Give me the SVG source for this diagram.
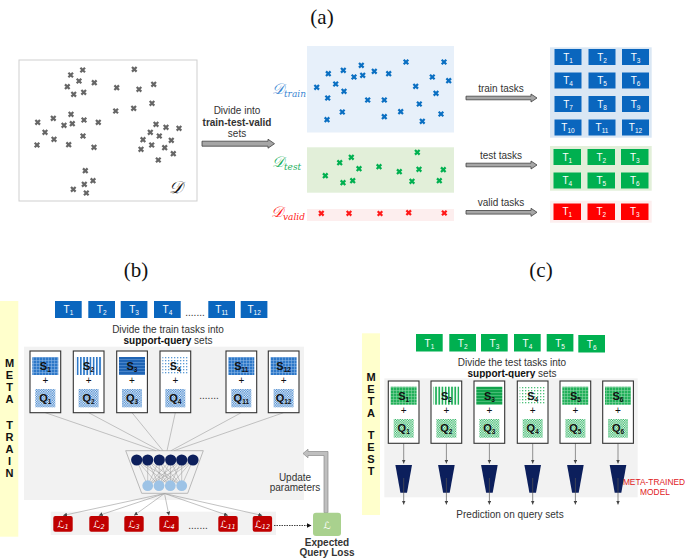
<svg xmlns="http://www.w3.org/2000/svg" width="685" height="558" viewBox="0 0 685 558">
<style>
text{font-family:"Liberation Sans",Arial,sans-serif;}
.ttl{font-family:"Liberation Serif",serif;font-size:21px;fill:#111;text-anchor:middle}
.lbl{font-size:10px;fill:#333;text-anchor:middle}
.tile{font-size:10px;fill:#fff;text-anchor:middle}
.sub{font-size:6.5px}
.card{fill:#fff;stroke:#333;stroke-width:1.1}
.sq{font-size:11px;font-weight:bold;fill:#111;text-anchor:middle}
.plus{font-size:10px;fill:#111;text-anchor:middle}
.vl{font-size:11px;font-weight:bold;fill:#111;text-anchor:middle}
.gx{stroke:#666}.bx{stroke:#0a6fc2}.grx{stroke:#00b050}.rx{stroke:#ff1a1a}
.tb{fill:#0a66be}.tg{fill:#00b050}.tr{fill:#ff0000}
.arr{fill:#a6a6a6;stroke:#404040;stroke-width:0.8}
.cl{stroke:#aaa;stroke-width:0.7;fill:none}
.cal{font-family:"DejaVu Serif","Liberation Serif",serif;font-style:italic}
.loss{fill:#c00000}
.lt{font-family:"DejaVu Sans",sans-serif;font-size:10px;fill:#fff;text-anchor:middle;font-style:italic}
</style>
<defs>
<path id="xm" d="M-2.3,-2.3L2.3,2.3M-2.3,2.3L2.3,-2.3" stroke-width="2.2" fill="none"/>
<marker id="ah" markerWidth="4" markerHeight="4" refX="4" refY="2" orient="auto" markerUnits="userSpaceOnUse"><path d="M0,0L4,2L0,4z" fill="#444"/></marker>
<marker id="ahk" markerWidth="5" markerHeight="5" refX="5" refY="2.5" orient="auto" markerUnits="userSpaceOnUse"><path d="M0,0L5,2.5L0,5z" fill="#111"/></marker>
<pattern id="bGrid" width="3" height="3" patternUnits="userSpaceOnUse"><rect width="3" height="3" fill="#2e78c8"/><path d="M0 0.4H3M0.4 0V3" stroke="#8fb8e6" stroke-width="0.6"/></pattern>
<pattern id="bVert" width="3.2" height="3" patternUnits="userSpaceOnUse"><rect width="3.2" height="3" fill="#fff"/><rect width="1.7" height="3" fill="#2e78c8"/></pattern>
<pattern id="bHor" width="3" height="3" patternUnits="userSpaceOnUse"><rect width="3" height="3" fill="#1f64b4"/><rect y="2" width="3" height="0.7" fill="#5a92d2"/></pattern>
<pattern id="bDot" width="3" height="3" patternUnits="userSpaceOnUse"><rect width="3" height="3" fill="#fff"/><rect width="1.3" height="1.3" fill="#5b9bd5"/></pattern>
<pattern id="bChk" width="2.4" height="2.4" patternUnits="userSpaceOnUse"><rect width="2.4" height="2.4" fill="#fff"/><rect width="1.2" height="1.2" fill="#2e78c8"/><rect x="1.2" y="1.2" width="1.2" height="1.2" fill="#2e78c8"/></pattern>
<pattern id="gGrid" width="3" height="3" patternUnits="userSpaceOnUse"><rect width="3" height="3" fill="#22b05a"/><path d="M0 0.4H3M0.4 0V3" stroke="#8fd9a9" stroke-width="0.6"/></pattern>
<pattern id="gVert" width="3.2" height="3" patternUnits="userSpaceOnUse"><rect width="3.2" height="3" fill="#fff"/><rect width="1.7" height="3" fill="#22b05a"/></pattern>
<pattern id="gHor" width="3" height="3" patternUnits="userSpaceOnUse"><rect width="3" height="3" fill="#12a24c"/><rect y="2" width="3" height="0.7" fill="#5cc885"/></pattern>
<pattern id="gDot" width="3" height="3" patternUnits="userSpaceOnUse"><rect width="3" height="3" fill="#fff"/><rect width="1.3" height="1.3" fill="#4cc27a"/></pattern>
<pattern id="gChk" width="2.4" height="2.4" patternUnits="userSpaceOnUse"><rect width="2.4" height="2.4" fill="#fff"/><rect width="1.2" height="1.2" fill="#22b05a"/><rect x="1.2" y="1.2" width="1.2" height="1.2" fill="#22b05a"/></pattern>
</defs>

<rect width="685" height="558" fill="#fff"/>

<text class="ttl" x="322" y="24">(a)</text>
<text class="ttl" x="136" y="277">(b)</text>
<text class="ttl" x="541" y="277">(c)</text>

<!-- Panel (a) -->
<g id="dataset-D">
<rect x="19" y="60" width="178" height="141" fill="#fff" stroke="#cfcfcf" stroke-width="1"/>
<g class="gx">
<use href="#xm" x="82.7" y="70"/><use href="#xm" x="70.7" y="75"/><use href="#xm" x="79" y="81"/><use href="#xm" x="94.3" y="82.7"/>
<use href="#xm" x="67.3" y="86.7"/><use href="#xm" x="73.7" y="94.3"/><use href="#xm" x="83.7" y="92.3"/><use href="#xm" x="134.3" y="69.3"/>
<use href="#xm" x="116.7" y="87.7"/><use href="#xm" x="139" y="89.3"/><use href="#xm" x="153.7" y="84.3"/><use href="#xm" x="152" y="103.3"/>
<use href="#xm" x="133.7" y="108.3"/><use href="#xm" x="115.7" y="111"/><use href="#xm" x="71" y="114.3"/><use href="#xm" x="53.3" y="118.3"/>
<use href="#xm" x="37.7" y="122.3"/><use href="#xm" x="84" y="120"/><use href="#xm" x="98.3" y="122.3"/><use href="#xm" x="64" y="125.3"/>
<use href="#xm" x="72.3" y="123.7"/><use href="#xm" x="45" y="132.3"/><use href="#xm" x="54" y="139.3"/><use href="#xm" x="83" y="136"/>
<use href="#xm" x="37" y="145"/><use href="#xm" x="68.7" y="144.7"/><use href="#xm" x="94" y="147.3"/><use href="#xm" x="156" y="124.3"/>
<use href="#xm" x="166" y="127.3"/><use href="#xm" x="179" y="128.3"/><use href="#xm" x="150.3" y="132.3"/><use href="#xm" x="159.3" y="136"/>
<use href="#xm" x="143" y="139.7"/><use href="#xm" x="171.3" y="140.3"/><use href="#xm" x="151.7" y="145"/><use href="#xm" x="164.7" y="147.7"/>
<use href="#xm" x="141" y="149.3"/><use href="#xm" x="173.3" y="153.7"/><use href="#xm" x="158.3" y="160"/><use href="#xm" x="85.3" y="170.7"/>
<use href="#xm" x="93" y="180.7"/><use href="#xm" x="84.3" y="184.3"/><use href="#xm" x="73.3" y="189.3"/><use href="#xm" x="86.3" y="193"/>
</g>
<text class="cal" x="169" y="193" font-size="17" fill="#111">𝒟</text>
</g>

<g id="divide-label">
<text class="lbl" x="237" y="114" fill="#222">Divide into</text>
<text class="lbl" x="237" y="125.5" font-weight="bold" fill="#222">train-test-valid</text>
<text class="lbl" x="237" y="137" fill="#222">sets</text>
</g>

<g id="D-train">
<rect x="307" y="46" width="147" height="86.5" fill="#e7f0fa"/>
<text class="cal" x="272" y="94" fill="#3b86d2"><tspan font-size="15">𝒟</tspan><tspan font-size="9" dy="3">train</tspan></text>
<g class="bx">
<use href="#xm" x="406" y="62"/><use href="#xm" x="444" y="62"/><use href="#xm" x="361.3" y="65.3"/><use href="#xm" x="343.3" y="70.3"/>
<use href="#xm" x="328.3" y="73.7"/><use href="#xm" x="354" y="77"/><use href="#xm" x="362.7" y="75.3"/><use href="#xm" x="374.3" y="71.3"/>
<use href="#xm" x="388.7" y="73.7"/><use href="#xm" x="432.3" y="77"/><use href="#xm" x="448.7" y="80.7"/><use href="#xm" x="316.7" y="87.3"/>
<use href="#xm" x="335.7" y="84"/><use href="#xm" x="344" y="91.3"/><use href="#xm" x="415.7" y="86.3"/><use href="#xm" x="436" y="93.3"/>
<use href="#xm" x="327.7" y="98"/><use href="#xm" x="367.7" y="100"/><use href="#xm" x="384.3" y="100"/><use href="#xm" x="419.3" y="104"/>
<use href="#xm" x="342.3" y="112"/><use href="#xm" x="400.7" y="111.7"/><use href="#xm" x="441" y="114"/><use href="#xm" x="327" y="119.7"/>
<use href="#xm" x="384.3" y="116.7"/><use href="#xm" x="422.3" y="121.3"/>
</g>
</g>

<g id="D-test">
<rect x="307" y="147.3" width="147" height="45.4" fill="#e2efd9"/>
<text class="cal" x="272" y="167" fill="#1bb060"><tspan font-size="15">𝒟</tspan><tspan font-size="9" dy="3">test</tspan></text>
<g class="grx">
<use href="#xm" x="417.3" y="152.3"/><use href="#xm" x="351.3" y="157.3"/><use href="#xm" x="339.7" y="162.7"/><use href="#xm" x="359" y="168.7"/>
<use href="#xm" x="379" y="166.7"/><use href="#xm" x="419" y="169.3"/><use href="#xm" x="443.3" y="169.7"/><use href="#xm" x="399.3" y="171.7"/>
<use href="#xm" x="325.3" y="175.7"/><use href="#xm" x="352.7" y="180.7"/><use href="#xm" x="343" y="182.7"/><use href="#xm" x="412" y="181.3"/>
<use href="#xm" x="439.3" y="180.7"/>
</g>
</g>

<g id="D-valid">
<rect x="307" y="209" width="147" height="12" fill="#fdeeee"/>
<text class="cal" x="271" y="217" fill="#ff1a1a"><tspan font-size="15">𝒟</tspan><tspan font-size="9" dy="3">valid</tspan></text>
<g class="rx">
<use href="#xm" x="321.3" y="213.3"/><use href="#xm" x="349" y="213.3"/><use href="#xm" x="380" y="213.5"/><use href="#xm" x="408.7" y="212.7"/><use href="#xm" x="444.3" y="213"/>
</g>
</g>

<g id="train-tasks">
<rect x="550" y="47.3" width="101.7" height="90.4" fill="#dae7f4"/>
<g class="tb">
<rect x="554.5" y="49" width="27" height="16"/><rect x="588.5" y="49" width="27" height="16"/><rect x="622" y="49" width="27" height="16"/>
<rect x="554.5" y="72.5" width="27" height="16"/><rect x="588.5" y="72.5" width="27" height="16"/><rect x="622" y="72.5" width="27" height="16"/>
<rect x="554.5" y="96" width="27" height="16"/><rect x="588.5" y="96" width="27" height="16"/><rect x="622" y="96" width="27" height="16"/>
<rect x="554.5" y="119.5" width="27" height="16"/><rect x="588.5" y="119.5" width="27" height="16"/><rect x="622" y="119.5" width="27" height="16"/>
</g>
<text class="tile" x="568" y="60.5">T<tspan class="sub" dy="2">1</tspan></text>
<text class="tile" x="602" y="60.5">T<tspan class="sub" dy="2">2</tspan></text>
<text class="tile" x="635.5" y="60.5">T<tspan class="sub" dy="2">3</tspan></text>
<text class="tile" x="568" y="84">T<tspan class="sub" dy="2">4</tspan></text>
<text class="tile" x="602" y="84">T<tspan class="sub" dy="2">5</tspan></text>
<text class="tile" x="635.5" y="84">T<tspan class="sub" dy="2">6</tspan></text>
<text class="tile" x="568" y="107.5">T<tspan class="sub" dy="2">7</tspan></text>
<text class="tile" x="602" y="107.5">T<tspan class="sub" dy="2">8</tspan></text>
<text class="tile" x="635.5" y="107.5">T<tspan class="sub" dy="2">9</tspan></text>
<text class="tile" x="568" y="131">T<tspan class="sub" dy="2">10</tspan></text>
<text class="tile" x="602" y="131">T<tspan class="sub" dy="2">11</tspan></text>
<text class="tile" x="635.5" y="131">T<tspan class="sub" dy="2">12</tspan></text>
</g>

<g id="test-tasks">
<rect x="550" y="146" width="101.7" height="44.7" fill="#e2efd9"/>
<g class="tg">
<rect x="553.5" y="149" width="27.5" height="16"/><rect x="587.5" y="149" width="27.5" height="16"/><rect x="621" y="149" width="27.5" height="16"/>
<rect x="553.5" y="172.5" width="27.5" height="16"/><rect x="587.5" y="172.5" width="27.5" height="16"/><rect x="621" y="172.5" width="27.5" height="16"/>
</g>
<text class="tile" x="567.3" y="160.5">T<tspan class="sub" dy="2">1</tspan></text>
<text class="tile" x="601.3" y="160.5">T<tspan class="sub" dy="2">2</tspan></text>
<text class="tile" x="634.8" y="160.5">T<tspan class="sub" dy="2">3</tspan></text>
<text class="tile" x="567.3" y="184">T<tspan class="sub" dy="2">4</tspan></text>
<text class="tile" x="601.3" y="184">T<tspan class="sub" dy="2">5</tspan></text>
<text class="tile" x="634.8" y="184">T<tspan class="sub" dy="2">6</tspan></text>
</g>

<g id="valid-tasks">
<rect x="550" y="200.7" width="101.7" height="22" fill="#fdeeee"/>
<g class="tr">
<rect x="553.5" y="203.5" width="27.5" height="16.5"/><rect x="587.5" y="203.5" width="27.5" height="16.5"/><rect x="621" y="203.5" width="27.5" height="16.5"/>
</g>
<text class="tile" x="567.3" y="215">T<tspan class="sub" dy="2">1</tspan></text>
<text class="tile" x="601.3" y="215">T<tspan class="sub" dy="2">2</tspan></text>
<text class="tile" x="634.8" y="215">T<tspan class="sub" dy="2">3</tspan></text>
</g>

<g id="connectors-a">
<polygon class="arr" points="202,141.2 268,141.2 268,139.2 274.5,143.7 268,148.2 268,146.2 202,146.2"/>
<polygon class="arr" points="466,96.2 531,96.2 531,94 537,98 531,102 531,99.8 466,99.8"/>
<polygon class="arr" points="466,163.2 531,163.2 531,161 537,165 531,169 531,166.8 466,166.8"/>
<polygon class="arr" points="466,210.5 531,210.5 531,208.3 537,212.3 531,216.3 531,214.1 466,214.1"/>
<text class="lbl" x="501" y="91.5">train tasks</text>
<text class="lbl" x="501" y="158.5">test tasks</text>
<text class="lbl" x="501" y="206">valid tasks</text>
</g>

<!-- Panel (b) -->
<g id="meta-train-bar">
<rect x="0" y="301" width="18.3" height="235.7" fill="#ffffcc"/>
<text class="vl" x="9.5" y="367">M</text><text class="vl" x="9.5" y="379">E</text><text class="vl" x="9.5" y="391">T</text><text class="vl" x="9.5" y="403">A</text>
<text class="vl" x="9.5" y="429">T</text><text class="vl" x="9.5" y="441">R</text><text class="vl" x="9.5" y="453">A</text><text class="vl" x="9.5" y="465">I</text><text class="vl" x="9.5" y="477">N</text>
</g>

<g id="b-train-tasks">
<g class="tb">
<rect x="55" y="301" width="26.7" height="17"/><rect x="88.3" y="301" width="26.7" height="17"/><rect x="120.7" y="301" width="26.7" height="17"/>
<rect x="154" y="301" width="26.7" height="17"/><rect x="208.3" y="301" width="26.7" height="17"/><rect x="240.7" y="301" width="26.7" height="17"/>
</g>
<text class="tile" x="68.4" y="313">T<tspan class="sub" dy="2">1</tspan></text>
<text class="tile" x="101.7" y="313">T<tspan class="sub" dy="2">2</tspan></text>
<text class="tile" x="134.1" y="313">T<tspan class="sub" dy="2">3</tspan></text>
<text class="tile" x="167.4" y="313">T<tspan class="sub" dy="2">4</tspan></text>
<text class="lbl" x="195" y="316" fill="#222">.......</text>
<text class="tile" x="221.7" y="313">T<tspan class="sub" dy="2">11</tspan></text>
<text class="tile" x="254.1" y="313">T<tspan class="sub" dy="2">12</tspan></text>
<text class="lbl" x="168" y="332.5">Divide the train tasks into</text>
<text class="lbl" x="168" y="343.5"><tspan font-weight="bold" fill="#111">support-query</tspan> sets</text>
</g>

<rect id="b-panel" x="24" y="346.7" width="280" height="153.3" fill="#f2f2f2"/>
<rect id="b-loss-band" x="50.7" y="511.7" width="225.3" height="23.3" fill="#f2f2f2"/>

<g id="connectors">
<path class="cl" d="M45.3 412.7L156 450.7M88.6 412.7L160 450.7M132 412.7L163 450.7M175.3 412.7L167 450.7M241.3 412.7L171 450.7M283.6 412.7L174 450.7"/>
<g stroke="#999" stroke-width="0.6" fill="none" marker-end="url(#ah)">
<path d="M164.5 493.5L63 515.5"/><path d="M164.5 493.5L98.7 515.5"/><path d="M164.5 493.5L134 515.5"/>
<path d="M164.5 493.5L169 515.5"/><path d="M164.5 493.5L228 515.5"/><path d="M164.5 493.5L262.3 515.5"/>
</g>
<path d="M274 525.5H311.5" stroke="#111" stroke-width="0.8" stroke-dasharray="1.5 1" marker-end="url(#ahk)"/>
<polygon points="324,512.7 324,455.5 308,455.5 308,457.8 303,453.5 308,449.2 308,451.5 328,451.5 328,512.7" fill="#bfbfbf" stroke="#8a8a8a" stroke-width="0.7"/>
</g>

<g id="b-card1"><rect class="card" x="30" y="351" width="30.7" height="61.7"/><rect x="32.3" y="357" width="26" height="18" fill="url(#bGrid)"/><text class="sq" x="45.3" y="370">S<tspan class="sub" dy="2">1</tspan></text><text class="plus" x="45.3" y="384">+</text><rect x="35.3" y="389" width="20" height="18.3" fill="url(#bChk)"/><text class="sq" x="45.3" y="402">Q<tspan class="sub" dy="2">1</tspan></text></g>
<g id="b-card2"><rect class="card" x="73.3" y="351" width="30.7" height="61.7"/><rect x="75.6" y="357" width="26" height="18" fill="url(#bVert)"/><text class="sq" x="88.6" y="370">S<tspan class="sub" dy="2">2</tspan></text><text class="plus" x="88.6" y="384">+</text><rect x="78.6" y="389" width="20" height="18.3" fill="url(#bChk)"/><text class="sq" x="88.6" y="402">Q<tspan class="sub" dy="2">2</tspan></text></g>
<g id="b-card3"><rect class="card" x="116.7" y="351" width="30.7" height="61.7"/><rect x="119" y="357" width="26" height="18" fill="url(#bHor)"/><text class="sq" x="132" y="370">S<tspan class="sub" dy="2">3</tspan></text><text class="plus" x="132" y="384">+</text><rect x="122" y="389" width="20" height="18.3" fill="url(#bChk)"/><text class="sq" x="132" y="402">Q<tspan class="sub" dy="2">3</tspan></text></g>
<g id="b-card4"><rect class="card" x="160" y="351" width="30.7" height="61.7"/><rect x="162.3" y="357" width="26" height="18" fill="url(#bDot)"/><text class="sq" x="175.3" y="370">S<tspan class="sub" dy="2">4</tspan></text><text class="plus" x="175.3" y="384">+</text><rect x="165.3" y="389" width="20" height="18.3" fill="url(#bChk)"/><text class="sq" x="175.3" y="402">Q<tspan class="sub" dy="2">4</tspan></text></g>
<text class="lbl" x="209" y="399" fill="#222">.......</text>
<g id="b-card11"><rect class="card" x="226" y="351" width="30.7" height="61.7"/><rect x="228.3" y="357" width="26" height="18" fill="url(#bGrid)"/><text class="sq" x="241.3" y="370">S<tspan class="sub" dy="2">11</tspan></text><text class="plus" x="241.3" y="384">+</text><rect x="231.3" y="389" width="20" height="18.3" fill="url(#bChk)"/><text class="sq" x="241.3" y="402">Q<tspan class="sub" dy="2">11</tspan></text></g>
<g id="b-card12"><rect class="card" x="268.3" y="351" width="30.7" height="61.7"/><rect x="270.6" y="357" width="26" height="18" fill="url(#bGrid)"/><text class="sq" x="283.6" y="370">S<tspan class="sub" dy="2">12</tspan></text><text class="plus" x="283.6" y="384">+</text><rect x="273.6" y="389" width="20" height="18.3" fill="url(#bChk)"/><text class="sq" x="283.6" y="402">Q<tspan class="sub" dy="2">12</tspan></text></g>

<g id="network">
<polygon points="125.7,450.7 203.3,450.7 187.7,493.3 141.7,493.3" fill="none" stroke="#aaa" stroke-width="0.8"/>
<path stroke="#9a9a9a" stroke-width="0.5" fill="none" d="M136.7 460L147.7 485.7M136.7 460L159 485.7M136.7 460L170.3 485.7M136.7 460L181.7 485.7M147.7 460L147.7 485.7M147.7 460L159 485.7M147.7 460L170.3 485.7M147.7 460L181.7 485.7M159.3 460L147.7 485.7M159.3 460L159 485.7M159.3 460L170.3 485.7M159.3 460L181.7 485.7M170.7 460L147.7 485.7M170.7 460L159 485.7M170.7 460L170.3 485.7M170.7 460L181.7 485.7M181.7 460L147.7 485.7M181.7 460L159 485.7M181.7 460L170.3 485.7M181.7 460L181.7 485.7M193 460L147.7 485.7M193 460L159 485.7M193 460L170.3 485.7M193 460L181.7 485.7"/>
<g fill="#0c1f5c">
<circle cx="136.7" cy="460" r="5.6"/><circle cx="147.7" cy="460" r="5.6"/><circle cx="159.3" cy="460" r="5.6"/><circle cx="170.7" cy="460" r="5.6"/><circle cx="181.7" cy="460" r="5.6"/><circle cx="193" cy="460" r="5.6"/>
</g>
<g fill="#9dc3e6">
<circle cx="147.7" cy="485.7" r="5.4"/><circle cx="159" cy="485.7" r="5.4"/><circle cx="170.3" cy="485.7" r="5.4"/><circle cx="181.7" cy="485.7" r="5.4"/>
</g>
</g>

<g id="losses">
<rect class="loss" x="53.3" y="516" width="19.4" height="15.7" rx="2"/>
<rect class="loss" x="89.3" y="516" width="19.4" height="15.7" rx="2"/>
<rect class="loss" x="124.3" y="516" width="19.4" height="15.7" rx="2"/>
<rect class="loss" x="159.3" y="516" width="19.4" height="15.7" rx="2"/>
<rect class="loss" x="218.3" y="516" width="19.4" height="15.7" rx="2"/>
<rect class="loss" x="252.7" y="516" width="19.4" height="15.7" rx="2"/>
<text class="lt" x="63" y="527.5">ℒ<tspan class="sub" dy="1.5">1</tspan></text>
<text class="lt" x="99" y="527.5">ℒ<tspan class="sub" dy="1.5">2</tspan></text>
<text class="lt" x="134" y="527.5">ℒ<tspan class="sub" dy="1.5">3</tspan></text>
<text class="lt" x="169" y="527.5">ℒ<tspan class="sub" dy="1.5">4</tspan></text>
<text class="lbl" x="198" y="529" fill="#222">.......</text>
<text class="lt" x="228" y="527.5">ℒ<tspan class="sub" dy="1.5">11</tspan></text>
<text class="lt" x="262.4" y="527.5">ℒ<tspan class="sub" dy="1.5">12</tspan></text>
</g>

<g id="expected-loss">
<rect x="313" y="512.7" width="28" height="23.3" rx="3" fill="#a9d18e"/>
<text class="lt" x="327" y="528.5" font-size="12">ℒ</text>
<text class="lbl" x="327" y="546" font-weight="bold" fill="#222">Expected</text>
<text class="lbl" x="327" y="556" font-weight="bold" fill="#222">Query Loss</text>
</g>
<g id="update-label">
<text class="lbl" x="295" y="480.5" fill="#444">Update</text>
<text class="lbl" x="295" y="490.5" fill="#444">parameters</text>
</g>

<!-- Panel (c) -->
<g id="meta-test-bar">
<rect x="362" y="333.3" width="18" height="181.7" fill="#ffffcc"/>
<text class="vl" x="371" y="381">M</text><text class="vl" x="371" y="393">E</text><text class="vl" x="371" y="405">T</text><text class="vl" x="371" y="417">A</text>
<text class="vl" x="371" y="439">T</text><text class="vl" x="371" y="451">E</text><text class="vl" x="371" y="463">S</text><text class="vl" x="371" y="475">T</text>
</g>

<g id="c-test-tasks">
<g class="tg">
<rect x="416" y="334" width="26.7" height="17.5"/><rect x="449.3" y="334" width="26.7" height="17.5"/><rect x="481" y="334" width="26.7" height="17.5"/>
<rect x="514" y="334" width="26.7" height="17.5"/><rect x="546.7" y="334" width="26.7" height="17.5"/><rect x="578.3" y="335" width="26.7" height="17.5"/>
</g>
<text class="tile" x="429.4" y="346.5">T<tspan class="sub" dy="2">1</tspan></text>
<text class="tile" x="462.7" y="346.5">T<tspan class="sub" dy="2">2</tspan></text>
<text class="tile" x="494.4" y="346.5">T<tspan class="sub" dy="2">3</tspan></text>
<text class="tile" x="527.4" y="346.5">T<tspan class="sub" dy="2">4</tspan></text>
<text class="tile" x="560.1" y="346.5">T<tspan class="sub" dy="2">5</tspan></text>
<text class="tile" x="591.7" y="347.5">T<tspan class="sub" dy="2">6</tspan></text>
<text class="lbl" x="512" y="365.5">Divide the test tasks into</text>
<text class="lbl" x="512" y="376.5"><tspan font-weight="bold" fill="#111">support-query</tspan> sets</text>
</g>

<rect id="c-panel" x="384.3" y="378.3" width="253.4" height="119" fill="#f2f2f2"/>

<g id="connectors-c" stroke="#666" stroke-width="0.7" marker-end="url(#ah)">
<path d="M403.7 443.3V463.5"/><path d="M446.4 443.3V463.5"/><path d="M489.4 443.3V463.5"/><path d="M532.7 443.3V463.5"/><path d="M575.4 443.3V463.5"/><path d="M618 443.3V463.5"/>
</g>

<g id="c-card1"><rect class="card" x="388.3" y="381" width="30.7" height="62.3"/><rect x="390.6" y="386.7" width="26" height="18" fill="url(#gGrid)"/><text class="sq" x="403.7" y="399.7">S<tspan class="sub" dy="2">1</tspan></text><text class="plus" x="403.7" y="414">+</text><rect x="393.7" y="419" width="20" height="18.7" fill="url(#gChk)"/><text class="sq" x="403.7" y="432">Q<tspan class="sub" dy="2">1</tspan></text></g>
<g id="c-card2"><rect class="card" x="431" y="381" width="30.7" height="62.3"/><rect x="433.3" y="386.7" width="26" height="18" fill="url(#gVert)"/><text class="sq" x="446.4" y="399.7">S<tspan class="sub" dy="2">2</tspan></text><text class="plus" x="446.4" y="414">+</text><rect x="436.4" y="419" width="20" height="18.7" fill="url(#gChk)"/><text class="sq" x="446.4" y="432">Q<tspan class="sub" dy="2">2</tspan></text></g>
<g id="c-card3"><rect class="card" x="474" y="381" width="30.7" height="62.3"/><rect x="476.3" y="386.7" width="26" height="18" fill="url(#gHor)"/><text class="sq" x="489.4" y="399.7">S<tspan class="sub" dy="2">3</tspan></text><text class="plus" x="489.4" y="414">+</text><rect x="479.4" y="419" width="20" height="18.7" fill="url(#gChk)"/><text class="sq" x="489.4" y="432">Q<tspan class="sub" dy="2">3</tspan></text></g>
<g id="c-card4"><rect class="card" x="517.3" y="381" width="30.7" height="62.3"/><rect x="519.6" y="386.7" width="26" height="18" fill="url(#gDot)"/><text class="sq" x="532.7" y="399.7">S<tspan class="sub" dy="2">4</tspan></text><text class="plus" x="532.7" y="414">+</text><rect x="522.7" y="419" width="20" height="18.7" fill="url(#gChk)"/><text class="sq" x="532.7" y="432">Q<tspan class="sub" dy="2">4</tspan></text></g>
<g id="c-card5"><rect class="card" x="560" y="381" width="30.7" height="62.3"/><rect x="562.3" y="386.7" width="26" height="18" fill="url(#gGrid)"/><text class="sq" x="575.4" y="399.7">S<tspan class="sub" dy="2">5</tspan></text><text class="plus" x="575.4" y="414">+</text><rect x="565.4" y="419" width="20" height="18.7" fill="url(#gChk)"/><text class="sq" x="575.4" y="432">Q<tspan class="sub" dy="2">5</tspan></text></g>
<g id="c-card6"><rect class="card" x="602.7" y="381" width="30.7" height="62.3" stroke="#777"/><rect x="605" y="386.7" width="26" height="18" fill="url(#gGrid)"/><text class="sq" x="618" y="399.7">S<tspan class="sub" dy="2">6</tspan></text><text class="plus" x="618" y="414">+</text><rect x="608" y="419" width="20" height="18.7" fill="url(#gChk)"/><text class="sq" x="618" y="432">Q<tspan class="sub" dy="2">6</tspan></text></g>

<g id="meta-trained-models">
<g fill="#0c1f5c">
<polygon points="395.4,465 412,465 407,492.7 400.4,492.7"/>
<polygon points="438.1,465 454.7,465 449.7,492.7 443.1,492.7"/>
<polygon points="481.1,465 497.7,465 492.7,492.7 486.1,492.7"/>
<polygon points="524.4,465 541,465 536,492.7 529.4,492.7"/>
<polygon points="567.1,465 583.7,465 578.7,492.7 572.1,492.7"/>
<polygon points="609.7,465 626.3,465 621.3,492.7 614.7,492.7"/>
</g>
<g stroke="#555" stroke-width="0.7" marker-end="url(#ah)">
<path d="M403.7 478V504.5"/><path d="M446.4 478V504.5"/><path d="M489.4 478V504.5"/><path d="M532.7 478V504.5"/><path d="M575.4 478V504.5"/><path d="M618 478V504.5"/>
</g>
<text x="654" y="485" font-size="8.4" fill="#e0201c" text-anchor="middle">META-TRAINED</text>
<text x="655" y="495" font-size="8.4" fill="#e0201c" text-anchor="middle">MODEL</text>
<text class="lbl" x="510" y="518">Prediction on query sets</text>
</g>
</svg>
